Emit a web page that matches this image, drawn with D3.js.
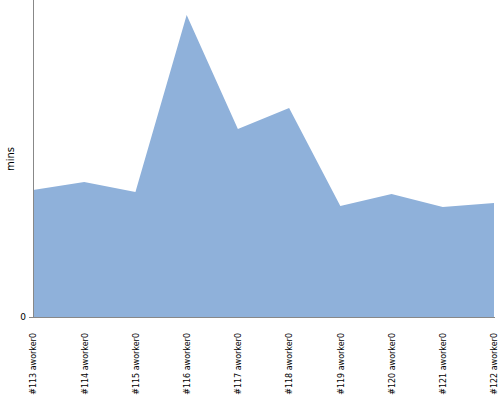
<!DOCTYPE html>
<html><head><meta charset="utf-8">
<script src="https://cdn.jsdelivr.net/npm/d3@7"></script>
<style>body{margin:0;background:#fff}svg{display:block}</style>
</head><body>
<svg id="c" width="500" height="400"></svg>
<script>
const categories = ["#113 aworker0","#114 aworker0","#115 aworker0","#116 aworker0","#117 aworker0","#118 aworker0","#119 aworker0","#120 aworker0","#121 aworker0","#122 aworker0"];
const values = [8.01, 8.52, 7.89, 19.05, 11.86, 13.19, 7.00, 7.76, 6.94, 7.19];
const yTicks = [0];
const yLabel = "mins";

const svg = d3.select("#c");
const m = {l:33, r:6, t:0, b:83};
const W = 500, H = 400;
const x = d3.scalePoint().domain(categories).range([m.l, W - m.r]);
const y = d3.scaleLinear().domain([0, 20]).range([H - m.b, m.t]);

const area = d3.area().x((d,i)=>x(categories[i])).y0(y(0)).y1(d=>y(d));
svg.append("path").datum(values).attr("d", area).attr("fill", "#8fb1da");

const ya = svg.append("g").attr("transform", `translate(${m.l},0)`)
  .call(d3.axisLeft(y).tickValues(yTicks).tickSize(4).tickPadding(3));
ya.select(".domain").attr("stroke", "#888").attr("d", `M0.5,${m.t}V${y(0)+0.5}`);
ya.selectAll(".tick line").attr("stroke", "#888");
ya.selectAll("text").attr("font-family", "Verdana, DejaVu Sans, sans-serif").attr("font-size", 9).attr("fill","#000");

const xa = svg.append("g").attr("transform", `translate(0,${y(0)})`)
  .call(d3.axisBottom(x).tickSize(0).tickPadding(0));
xa.select(".domain").attr("stroke", "#888").attr("d", `M${m.l},0.5H${W - m.r + 1}`);
xa.selectAll("text")
  .attr("font-family", "Verdana, DejaVu Sans, sans-serif").attr("font-size", 8).attr("fill","#000")
  .attr("text-anchor", "end").attr("dy", "0.35em")
  .attr("transform", "translate(0,16) rotate(-90)").attr("x", 0).attr("y", 0);

svg.append("text").attr("transform", "translate(14,159) rotate(-90)")
  .attr("text-anchor", "middle").attr("font-family", "Verdana, DejaVu Sans, sans-serif")
  .attr("font-size", 10).text(yLabel);
</script>
</body></html>
